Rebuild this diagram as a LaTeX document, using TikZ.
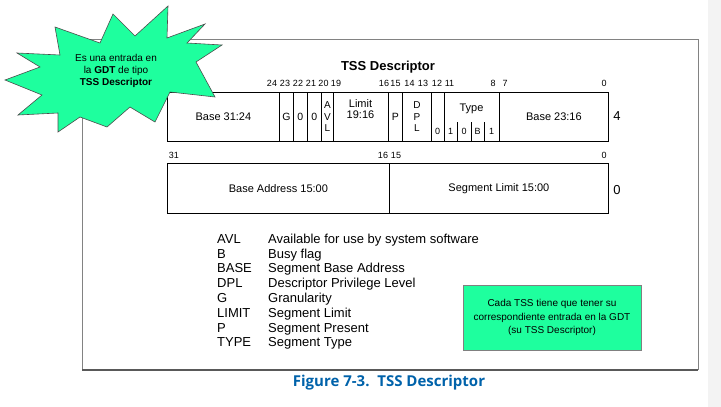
\documentclass[tikz,border=0pt]{standalone}
\usepackage{fontspec}
\setmainfont{Liberation Sans}
\newfontfamily\capfont{Open Sans}
\usetikzlibrary{positioning}
\definecolor{colStar}{RGB}{30,255,158}
\definecolor{colFrame}{RGB}{130,130,130}
\definecolor{colCaption}{RGB}{0,98,170}
\definecolor{colStrip}{RGB}{243,243,243}

\begin{document}
\begin{tikzpicture}[x=1pt, y=-1pt,
  field/.style={rectangle, draw=black, line width=0.8pt, anchor=north west, inner sep=0pt,
    minimum height=49pt, align=center, font=\fontsize{11}{12}\selectfont},
  narrow/.style={field, font=\fontsize{10.5}{11.5}\selectfont},
  bitno/.style={inner sep=0pt, font=\fontsize{9}{10}\selectfont},
  bitsmall/.style={inner sep=0pt, font=\fontsize{9}{10}\selectfont},
  legkey/.style={anchor=base west, inner sep=0pt, font=\fontsize{13}{15}\selectfont},
  notebox/.style={rectangle, draw=gray, fill=colStar, align=center,
    minimum width=178pt, minimum height=65pt, font=\fontsize{10}{13.5}\selectfont}]
  \useasboundingbox (0,0) rectangle (721,407);
  \fill[colStrip] (708,0) rectangle (721,407);

  % frame
  \draw[colFrame, line width=0.8pt] (82,370) -- (82,39) -- (698,39) -- (698,370);
  \draw[gray!70!black, line width=1.2pt] (82,370) -- (698,370);

  \node[font=\bfseries\fontsize{13}{15}\selectfont] (title) at (388,67) {TSS Descriptor};

  % upper doubleword
  \node[field, minimum width=112pt] (basehi) at (167,92) {Base 31:24};
  \node[narrow, minimum width=14pt] (gran) at (279,92) {G};
  \node[narrow, minimum width=14pt] (zeroa) at (293,92) {0};
  \node[narrow, minimum width=14pt] (zerob) at (307,92) {0};
  \node[narrow, minimum width=12pt, font=\fontsize{10}{11.5}\selectfont] (avl) at (321,92) {A\\V\\L};
  \node[field, minimum width=55pt] (limhi) at (333,92) {};
  \node[narrow, minimum width=14pt] (pres) at (388,92) {P};
  \node[narrow, minimum width=29pt, font=\fontsize{10}{11.5}\selectfont] (dpl) at (402,92) {D\\P\\L};
  \node[field, minimum width=13pt] (bitzero) at (431,92) {};
  \node[field, minimum width=55pt] (type) at (444,92) {};
  \node[field, minimum width=109pt] (baselo) at (499,92) {Base 23:16};
  \node[inner sep=0pt, align=center, font=\fontsize{11}{11.5}\selectfont] (limtxt) at (360.5,109) {Limit\\19:16};
  \node[inner sep=0pt, font=\fontsize{11}{12}\selectfont] (typetxt) at (471.5,109) {Type};
  \draw[line width=0.6pt] (457,122) -- (457,141) (471,122) -- (471,141) (484,122) -- (484,141);
  \node[bitsmall] (szero) at (437.5,131) {0};
  \node[bitsmall] (tb3) at (450.5,131) {1};
  \node[bitsmall] (tb2) at (464,131) {0};
  \node[bitsmall] (tb1) at (477.5,131) {B};
  \node[bitsmall] (tb0) at (491.5,131) {1};
  \foreach \n/\x in {24/272,23/285,22/298,21/311,20/323.5,19/336,16/384,15/395.5,
                     14/409.5,13/423,12/437,11/449.5,8/493,7/505,0/604}
    \node[bitno] (hb\n) at (\x,83) {\n};
  \node[font=\fontsize{13}{15}\selectfont] (dwone) at (617,116) {4};

  % lower doubleword
  \node[field, minimum width=222pt, minimum height=50pt] (baseaddr) at (167,163) {Base Address 15:00};
  \node[field, minimum width=219pt, minimum height=50pt] (seglim) at (389,163) {Segment Limit 15:00};
  \foreach \n/\x in {31/174,16/383,15/396,0/604}
    \node[bitno] (lb\n) at (\x,155) {\n};
  \node[font=\fontsize{13}{15}\selectfont] (dwzero) at (617,190) {0};

  % legend
  \foreach \k/\t [count=\i] in {AVL/Available for use by system software, B/Busy flag,
      BASE/Segment Base Address, DPL/Descriptor Privilege Level, G/Granularity,
      LIMIT/Segment Limit, P/Segment Present, TYPE/Segment Type} {
    \node[legkey] (key\i) at ({217},{243.2+14.8*(\i-1)}) {\k};
    \node[legkey] (txt\i) at ({268},{243.2+14.8*(\i-1)}) {\t};
  }

  \node[notebox] (tssnote) at (552,317.5) {Cada TSS tiene que tener su\\correspondiente entrada en la GDT\\(su TSS Descriptor)};

  % starburst
  \draw[draw=gray!60!black, line width=0.6pt, fill=colStar]
    (215,97) -- (170,92) -- (155,122) -- (130,107) -- (107,127) -- (80,117)
    -- (58,132) -- (58,113) -- (18,115) -- (42,95) -- (5,80) -- (40,67)
    -- (17,53) -- (60,55) -- (55,27) -- (100,43) -- (113,14) -- (135,36)
    -- (168,6) -- (167,38) -- (205,24) -- (187,43) -- (222,45) -- (196,62) -- cycle;
  \node[align=center, inner sep=0pt, font=\fontsize{10}{11.8}\selectfont] (startxt) at (116,71)
    {Es una entrada en\\la \textbf{GDT} de tipo\\\textbf{TSS Descriptor}};

  \node[text=colCaption, font=\capfont\bfseries\fontsize{15}{17}\selectfont] (caption) at (389,383)
    {Figure 7-3.\ \ TSS Descriptor};
\end{tikzpicture}
\end{document}
